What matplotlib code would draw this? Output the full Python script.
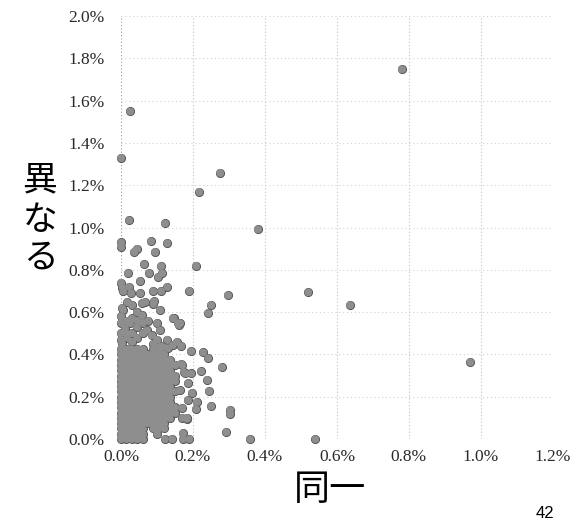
import numpy as np
import matplotlib
matplotlib.use("Agg")
import matplotlib.pyplot as plt
from matplotlib.ticker import FuncFormatter

# Puntos sueltos (x = 同一 %, y = 異なる %).
sueltos = [
    (0.78, 1.75), (0.97, 0.364), (0.025, 1.55), (0.0, 1.33), (0.275, 1.26),
    (0.217, 1.17), (0.38, 0.993), (0.022, 1.035), (0.122, 1.02), (0.208, 0.82),
    (0.52, 0.695), (0.636, 0.634), (0.297, 0.68), (0.25, 0.634), (0.242, 0.596),
    (0.19, 0.70), (0.54, 0.0), (0.358, 0.0), (0.292, 0.033),
    (0.194, 0.416), (0.228, 0.41), (0.242, 0.383), (0.28, 0.34), (0.222, 0.32),
    (0.239, 0.28), (0.244, 0.227), (0.25, 0.156), (0.303, 0.137), (0.303, 0.118),
    (0.21, 0.175), (0.208, 0.142), (0.197, 0.218), (0.175, 0.317), (0.167, 0.355),
    (0.194, 0.31), (0.122, 0.0), (0.142, 0.0), (0.172, 0.0), (0.172, 0.028),
    (0.19, 0.0), (0.17, 0.1), (0.183, 0.095), (0.147, 0.57), (0.16, 0.54),
    (0.108, 0.61), (0.09, 0.64),
    (0.0, 0.93), (0.0, 0.91), (0.044, 0.9), (0.036, 0.885), (0.083, 0.936),
    (0.094, 0.885), (0.128, 0.927), (0.064, 0.827), (0.078, 0.785), (0.111, 0.818),
    (0.103, 0.766), (0.053, 0.747), (0.128, 0.72), (0.111, 0.70), (0.019, 0.785),
    (0.089, 0.70), (0.053, 0.69), (0.022, 0.72), (0.028, 0.69), (0.0, 0.74),
    (0.004, 0.716), (0.006, 0.70), (0.114, 0.785),
    (0.017, 0.648), (0.03, 0.634), (0.067, 0.648), (0.092, 0.652), (0.006, 0.61),
    (0.044, 0.6), (0.144, 0.572), (0.164, 0.548), (0.058, 0.586), (0.003, 0.62),
    (0.058, 0.643), (0.011, 0.525), (0.025, 0.548), (0.044, 0.53), (0.072, 0.515),
    (0.1, 0.548), (0.108, 0.515), (0.158, 0.548), (0.017, 0.48), (0.044, 0.48),
    (0.1, 0.47), (0.128, 0.47), (0.144, 0.444), (0.155, 0.46), (0.117, 0.435),
    (0.003, 0.454), (0.0, 0.58), (0.015, 0.56), (0.0, 0.55), (0.03, 0.57),
    (0.045, 0.56), (0.06, 0.55), (0.075, 0.56), (0.015, 0.5), (0.03, 0.5),
    (0.06, 0.5), (0.085, 0.49), (0.0, 0.5), (0.0, 0.47), (0.03, 0.46), (0.09, 0.45),
    (0.11, 0.44), (0.13, 0.43), (0.167, 0.44), (0.17, 0.35), (0.178, 0.31),
    (0.186, 0.265), (0.164, 0.23), (0.186, 0.184), (0.17, 0.147), (0.183, 0.1),
    (0.108, 0.066),
]

# Nucleo denso cerca del origen: para cada fila y, los x de los puntos.
nucleo = {
    0.000: [0, .015, .03, .045, .06],
    0.025: [0, .015, .03, .045, .06, .1],
    0.050: [0, .015, .03, .045, .06, .09, .105, .12],
    0.075: [0, .015, .03, .045, .06, .075, .09, .105, .12],
    0.100: [0, .015, .03, .045, .06, .075, .09, .105, .12, .135],
    0.125: [0, .015, .03, .045, .06, .075, .09, .105, .12, .135, .15],
    0.150: [0, .015, .03, .045, .06, .075, .09, .105, .12, .135, .15],
    0.175: [0, .015, .03, .045, .06, .075, .09, .105, .12, .135],
    0.200: [0, .015, .03, .045, .06, .075, .09, .105, .12, .135],
    0.225: [0, .015, .03, .045, .06, .075, .09, .105, .12, .135, .15],
    0.250: [0, .015, .03, .045, .06, .075, .09, .105, .12, .135],
    0.275: [0, .015, .03, .045, .06, .075, .09, .105, .12, .135, .15],
    0.300: [0, .015, .03, .045, .06, .075, .09, .105, .12, .135, .15],
    0.325: [0, .015, .03, .045, .06, .075, .09, .105, .12, .135],
    0.350: [0, .015, .03, .045, .06, .075, .09, .105, .12, .135, .15],
    0.375: [0, .015, .03, .045, .06, .075, .09, .105, .12, .135],
    0.400: [0, .015, .03, .045, .06, .075, .09, .105, .12],
    0.425: [0, .015, .03, .045, .06, .09, .105],
}

x_ticks = [0.0, 0.2, 0.4, 0.6, 0.8, 1.0, 1.2]
y_ticks = [0.0, 0.2, 0.4, 0.6, 0.8, 1.0, 1.2, 1.4, 1.6, 1.8, 2.0]

xs = [p[0] for p in sueltos]
ys = [p[1] for p in sueltos]
for yv, fila in nucleo.items():
    xs += fila
    ys += [yv] * len(fila)

fig = plt.figure(figsize=(5.86, 5.22), dpi=100)
ax = fig.add_axes([0.2065, 0.159, 0.737, 0.810])

# Primero con borde, despues encima sin borde: asi los solapes quedan lisos.
ax.scatter(xs, ys, s=34, c="#8e8e8e", edgecolors="#555555", linewidths=0.7,
           zorder=3, clip_on=False)
ax.scatter(xs, ys, s=29, c="#8e8e8e", edgecolors="none",
           zorder=4, clip_on=False)

ax.set_xlim(0, 1.2)
ax.set_ylim(0, 2.0)
ax.set_xticks(x_ticks)
ax.set_yticks(y_ticks)
ax.xaxis.set_major_formatter(FuncFormatter(lambda v, p: "%.1f%%" % v))
ax.yaxis.set_major_formatter(FuncFormatter(lambda v, p: "%.1f%%" % v))
for s in ax.spines.values():
    s.set_visible(False)
ax.tick_params(length=0, labelsize=12.5, colors="#2a2a2a")
ax.tick_params(axis="x", pad=7)
ax.tick_params(axis="y", pad=12)
for lab in ax.get_xticklabels() + ax.get_yticklabels():
    lab.set_family("Liberation Serif")

for v in x_ticks:
    c = "#9a9a9a" if v == 0 else "#c0c0c0"
    ax.axvline(v, color=c, linestyle=(0, (1, 2)), linewidth=0.8, zorder=1)
for v in y_ticks:
    c = "#9a9a9a" if v == 0 else "#d2d2d2"
    ax.axhline(v, color=c, linestyle=(0, (1, 2.5)), linewidth=0.8, zorder=1)

cjk = ["Noto Sans CJK JP", "DejaVu Sans"]
for ch, yy in zip(["異", "な", "る"], [181, 220, 258]):
    fig.text(40 / 586, 1 - yy / 522, ch, family=cjk, fontsize=25,
             ha="center", va="center")
fig.text(330 / 586, 1 - 490 / 522, "同一", family=cjk, fontsize=26,
         ha="center", va="center")
fig.text(545 / 586, 0.002, "42", family="Liberation Sans", fontsize=12,
         ha="center", va="bottom")

plt.savefig("out.png", dpi=100)
